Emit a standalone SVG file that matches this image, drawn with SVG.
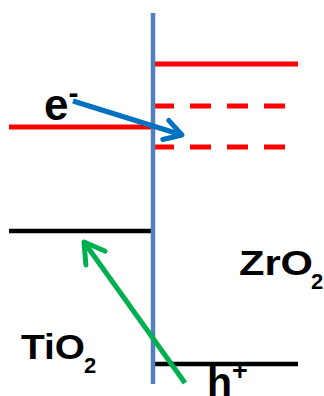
<svg xmlns="http://www.w3.org/2000/svg" width="324" height="396" viewBox="0 0 324 396">
<style>
.red{stroke:#ff0000;stroke-width:5;fill:none}
.blk{stroke:#000000;stroke-width:4.5;fill:none}
.dash{stroke-dasharray:21 16}
.lbl{font-family:"Liberation Sans",Arial,sans-serif;font-weight:bold;fill:#000}
</style>
<defs>
<marker id="hb" markerUnits="userSpaceOnUse" viewBox="-22 -14 26 28" markerWidth="26" markerHeight="28" refX="0" refY="0" orient="auto">
<polyline points="-17,-10 0,0 -17,10" fill="none" stroke="#0070c0" stroke-width="5" stroke-linecap="round" stroke-linejoin="round"/>
</marker>
<marker id="hg" markerUnits="userSpaceOnUse" viewBox="-22 -14 26 28" markerWidth="26" markerHeight="28" refX="0" refY="0" orient="auto">
<polyline points="-20,-12 0,0 -20,12" fill="none" stroke="#00b050" stroke-width="5" stroke-linecap="round" stroke-linejoin="round"/>
</marker>
</defs>
<g id="levels">
<line class="red" x1="153" y1="64" x2="298" y2="64"/>
<line class="red dash" x1="153" y1="106" x2="290" y2="106"/>
<line class="red dash" x1="153" y1="147" x2="290" y2="147"/>
<line class="red" x1="9" y1="127" x2="153" y2="127"/>
<line class="blk" x1="9" y1="231" x2="153" y2="231"/>
<line class="blk" x1="153" y1="364" x2="298" y2="364"/>
</g>
<g id="interface">
<line x1="153" y1="13" x2="153" y2="384" stroke="#4f81bd" stroke-width="4.5"/>
</g>
<g id="connectors">
<line x1="73" y1="101" x2="182" y2="135" stroke="#0070c0" stroke-width="5" marker-end="url(#hb)"/>
<line x1="185" y1="383" x2="84" y2="242" stroke="#00b050" stroke-width="5" marker-end="url(#hg)"/>
</g>
<g id="labels">
<text class="lbl" x="44" y="120" font-size="44">e<tspan font-size="30" dy="-17">-</tspan></text>
<text class="lbl" x="239" y="275" font-size="35" textLength="74" lengthAdjust="spacingAndGlyphs">ZrO</text>
<text class="lbl" x="311" y="289" font-size="22">2</text>
<text class="lbl" x="21" y="359" font-size="35" textLength="64" lengthAdjust="spacingAndGlyphs">TiO</text>
<text class="lbl" x="84" y="373" font-size="22">2</text>
<text class="lbl" x="207" y="396" font-size="41">h<tspan font-size="27" dy="-16">+</tspan></text>
</g>
</svg>
